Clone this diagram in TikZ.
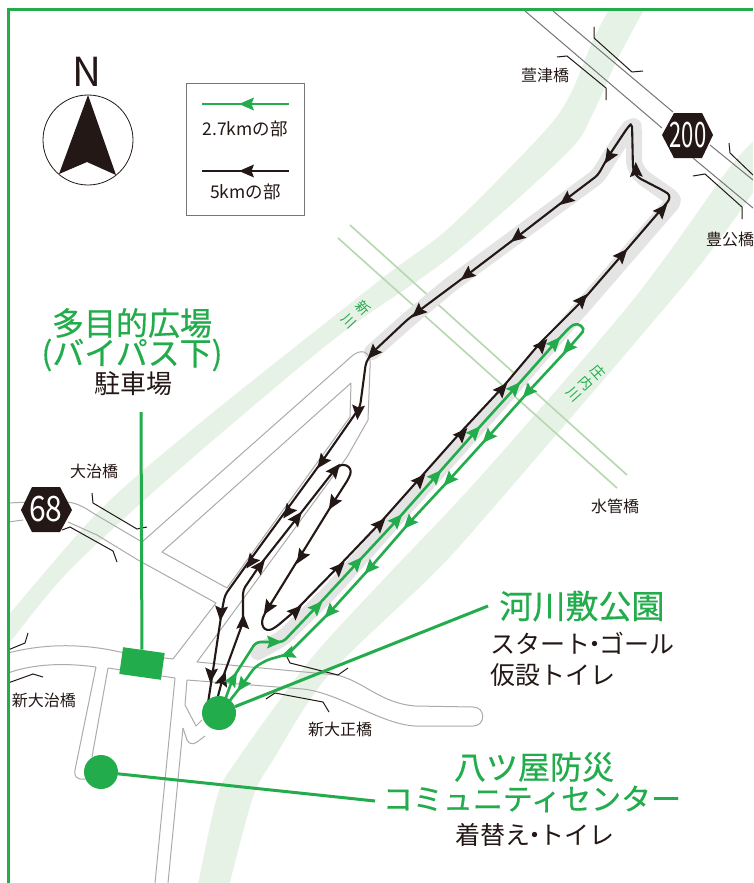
\documentclass[tikz,border=0pt]{standalone}
\usepackage{fontspec}
\setmainfont{Noto Sans CJK JP}
\newfontfamily\jpmed{Noto Sans CJK JP}[FakeBold=0.45]
\definecolor{grn}{HTML}{22AC4B}
\definecolor{ink}{HTML}{231815}
\definecolor{bandc}{HTML}{E7F2E6}
\definecolor{courseg}{HTML}{E4E4E4}
\definecolor{roadc}{HTML}{ABABAB}
\definecolor{roadd}{HTML}{767676}
\definecolor{pipec}{HTML}{B5D8AE}
\tikzset{
  road/.style={draw=roadc,line width=1pt,line join=round},
  roaddark/.style={draw=roadd,line width=1pt},
  bridgemark/.style={draw=ink,line width=1pt,line join=miter},
  blkcourse/.style={draw=ink,line width=2.1pt,line join=round},
  grncourse/.style={draw=grn,line width=2.6pt,line join=round},
  leader/.style={draw=grn,line width=3pt},
  spot/.style={circle,fill=grn,minimum size=34pt,inner sep=0pt},
  lot/.style={rectangle,fill=grn,minimum width=42pt,minimum height=27pt,inner sep=0pt,rotate=-8},
  small/.style={text=ink,inner sep=0pt,font=\fontsize{16}{16}\selectfont},
  legendtxt/.style={text=ink,inner sep=0pt,font=\fontsize{17.5}{17.5}\selectfont},
  title/.style={text=grn,inner sep=0pt,font=\jpmed\fontsize{32}{32}\selectfont},
  sub/.style={text=ink,inner sep=0pt,font=\fontsize{25}{25}\selectfont},
  riverlbl/.style={text=grn,inner sep=0pt,align=center,font=\fontsize{14}{16}\selectfont},
  hexnum/.style={text=white,inner sep=0pt,font=\fontsize{35}{35}\selectfont},
}
\newcommand{\hd}[4]{\fill[#1,shift={(#2,#3)},rotate=#4] (8pt,0pt)--(-7pt,6.5pt)--(-4.5pt,0pt)--(-7pt,-6.5pt)--cycle;}
\begin{document}
\begin{tikzpicture}[x=1pt,y=-1pt]
\useasboundingbox (0,0) rectangle (753,883);
\clip (0,0) rectangle (753,883);
\fill[white] (0,0) rectangle (753,883);
% river bands
\begin{scope}
\clip (8,10) rectangle (753,883);
\fill[bandc] plot[smooth,tension=.5] coordinates {(610,8)(593,40)(570,95)(543,133)(450,227)(380,280)(200,423)(100,510)(8,616)}
 -- plot[smooth,tension=.5] coordinates {(8,645)(67,573)(167,480)(333,340)(450,257)(567,153)(593,113)(617,60)(645,8)} -- cycle;
\fill[bandc] plot[smooth,tension=.5] coordinates {(760,136)(730,167)(633,300)(480,477)(383,580)(310,660)(237,760)(217,797)(197,890)}
 -- plot[smooth,tension=.5] coordinates {(228,890)(253,797)(273,760)(327,677)(427,580)(480,523)(688,280)(760,182)} -- cycle;
\end{scope}
% water pipe bridge
\draw[pipec,line width=1.6pt] (350,225)--(627,475);
\draw[pipec,line width=1.6pt] (338,238)--(617,488);
% course shading
\draw[courseg,line width=16pt,line join=round,line cap=round,rounded corners=5pt]
  (258,652)--(283,638)--(330,592)--(420,491)--(500,402)--(590,298)--(675,200)--(641,176)--(634,165)--(634,126)--(629,128)--(611,155)--(598,176)--(450,285)--(408,320)--(372,352);
% roads
\draw[roaddark] (525,11)--(662,128);
\draw[roaddark] (693,158)--(753,208);
\draw[roaddark] (553,11)--(673,112);
\draw[roaddark] (710,145)--(753,180);
\draw[road] (8,503)--(30,502)(60,502)--(67,502) .. controls (78,503) and (85,508) .. (93,513)--(142,542)--(352,356) .. controls (360,349) and (372,349) .. (370,368)--(368,420)--(347,457)--(197,662)--(283,670)--(337,675) .. controls (365,682) and (380,703) .. (415,706)--(473,707) .. controls (486,707) and (486,726) .. (473,726)--(415,726) .. controls (380,724) and (340,693) .. (303,689)--(187,680)--(185,705)--(196,726)--(202,720);
\draw[road] (8,522)--(23,520)(68,522)--(97,535)--(138,560)--(216,603)--(173,659)--(120,652) .. controls (90,645) and (50,642) .. (8,653);
\draw[road] (162,552)--(351,383)--(350,417)--(227,588)--cycle;
\draw[road] (8,673) .. controls (30,665) and (60,662) .. (96,667)--(75,770) .. controls (74,776) and (76,780) .. (85,779);
\draw[road] (108,668)--(92,757);
\draw[road] (108,668)--(175,678)--(155,883);
\draw[road] (183,728)--(187,740) .. controls (189,744) and (193,745) .. (197,742)--(205,736);
\draw[road] (183,728)--(168,883);
% bridge marks
\draw[bridgemark] (594,27)--(594,38)--(632,72)--(643,71);
\draw[bridgemark] (557,57)--(567,56)--(606,88)--(606,100);
\draw[bridgemark] (729,143)--(730,153)--(753,175);
\draw[bridgemark] (693,176)--(705,174)--(742,207)--(742,219);
\draw[bridgemark] (92,493)--(93,503)--(137,529)--(147,527);
\draw[bridgemark] (62,530)--(70,527)--(113,551)--(117,562);
\draw[bridgemark] (28,633)--(25,643)--(8,650);
\draw[bridgemark] (8,683)--(33,674)--(43,677);
\draw[bridgemark] (287,657)--(290,663)--(338,675)--(348,668);
\draw[bridgemark] (266,699)--(275,693)--(323,702)--(329,712);
% black course
\draw[blkcourse,rounded corners=4pt] (217,700)--(223,677)--(243,622)--(243,590)--(260,565)--(297,518)--(333,472)
  .. controls (342,461) and (353,466) .. (349,478)--(333,503)--(267,610)
  .. controls (258,625) and (265,633) .. (276,627)--(296,610)--(338,567)--(380,523)--(420,478)--(460,433)--(502,388)--(540,343)--(583,300)--(622,255)--(665,205)
  .. controls (670,199) and (670,195) .. (664,191)--(637,177)--(633,170)--(632,123)--(628,127)--(608,157)--(598,175)--(565,200)--(517,237)--(467,275)--(420,310)--(407,320)--(373,352)--(366,362)--(360,407)--(323,460)--(250,560)--(225,595)--(222,610)--(212,677)--(208,703);
\foreach \x/\y/\a in {223/679/72,243/622/88,260/566/52,297/518/53,335/470/52,333/503/238,301/557/238,268/608/238,296/611/44,339/568/46,380/524/47,420/480/48,462/434/48,502/389/49,542/345/49,582/300/49,622/255/49,662/210/49,636/170/92,609/157/238,566/200/218,517/237/218,467/275/218,418/312/222,373/353/228,358/412/265,322/462/234,288/512/234,251/562/234,221/613/265,211/675/265}
  {\hd{ink}{\x}{\y}{\a}}
% green course
\draw[grncourse,rounded corners=4pt] (225,700)--(233,678)--(256,642)--(283,642)--(320,603)--(357,563)--(397,520)--(436,476)--(475,432)--(515,388)--(555,343)--(570,327)
  .. controls (578,322) and (586,328) .. (580,335)--(567,350)--(528,392)--(488,437)--(449,480)--(409,523)--(370,568)--(330,612)--(288,654)--(267,660)--(255,667)--(242,685)--(228,703);
\foreach \x/\y/\a in {233/679/60,274/642/0,317/607/47,357/563/48,397/520/48,436/476/48,475/432/48,515/388/48,555/343/48,568/348/228,528/392/228,488/437/228,449/480/228,409/523/228,370/568/228,330/612/228,288/654/200,242/685/234}
  {\hd{grn}{\x}{\y}{\a}}
% hexagons
\fill[ink] (21,510)--(32,487)--(60,487)--(72,510)--(60,532)--(32,532)--cycle;
\fill[ink] (662,135)--(674,113)--(702,113)--(713,135)--(702,158)--(674,158)--cycle;
\node[hexnum,xscale=.86] (r68) at (46,509) {68};
\node[hexnum,xscale=.63] (r200) at (688,135) {200};
% frame
\draw[grn,line width=3pt,line cap=butt,miter limit=10] (8,883)--(8,10)--(753,10);
% compass
\draw[ink,line width=.8pt] (88,140) circle (45);
\fill[ink] (88,95)--(59,174)--(87,162)--(116,175)--cycle;
\node[text=ink,inner sep=0pt,font=\fontsize{40}{40}\selectfont] (north) at (87,72) {N};
% legend
\draw[roadd,line width=1pt] (186,83) rectangle (304,215);
\coordinate (lg1a) at (289,104); \coordinate (lg1b) at (202,104);
\coordinate (lg2a) at (289,171); \coordinate (lg2b) at (202,171);
\draw[grn,line width=2.6pt] (lg1a)--(lg1b);
\draw[ink,line width=2.6pt] (lg2a)--(lg2b);
\hd{grn}{247}{104}{180}
\hd{ink}{247}{171}{180}
\node[legendtxt] (lg1) at (245,129) {2.7kmの部};
\node[legendtxt] (lg2) at (245.5,192) {5kmの部};
% small labels
\node[small] at (545,75) {萱津橋};
\node[small] at (730,239) {豊公橋};
\node[small] at (615,506) {水管橋};
\node[small] at (94,471) {大治橋};
\node[small] at (44,700) {新大治橋};
\node[small] at (340,729) {新大正橋};
\node[riverlbl,rotate=-47] at (356,315) {新\\[3pt]川};
\node[riverlbl,rotate=-48] at (586,383) {庄\\内\\川};
% main labels
\node[title] (t1) at (132,323) {多目的広場};
\node[title] (t2) at (132,355) {(バイパス下)};
\node[sub,font=\fontsize{26}{26}\selectfont] (t3) at (133.5,384) {駐車場};
\node[title,font=\jpmed\fontsize{33}{33}\selectfont] (t4) at (582,606) {河川敷公園};
\node[sub,anchor=west] (t5) at (490,643) {スタート\kern-8pt・\kern-8ptゴール};
\node[sub,anchor=west] (t6) at (490,675) {仮設トイレ};
\node[title] (t7) at (534,767) {八ツ屋防災};
\node[title,font=\jpmed\fontsize{30}{30}\selectfont] (t8) at (532,799) {コミュニティセンター};
\node[sub,anchor=west] (t9) at (455,835) {着替え\kern-8pt・\kern-8ptトイレ};
% places and leaders
\node[lot] (park) at (142,663.5) {};
\node[spot] (kasen) at (219,713) {};
\node[spot] (yatsuya) at (101,772) {};
\coordinate (parkEnd) at (141,412);
\coordinate (kasenEnd) at (488,606);
\coordinate (yatsuyaEnd) at (375,801);
\draw[leader] (parkEnd)--(park);
\draw[leader] (kasen)--(kasenEnd);
\draw[leader] (yatsuya)--(yatsuyaEnd);
\end{tikzpicture}
\end{document}
